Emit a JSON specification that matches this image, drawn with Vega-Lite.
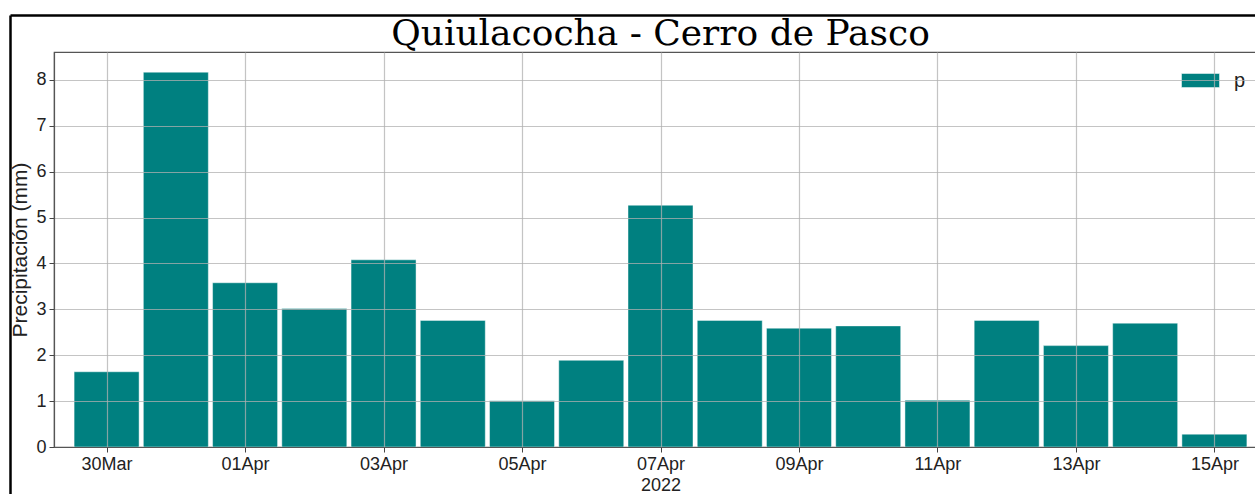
{
  "$schema": "https://vega.github.io/schema/vega-lite/v6.json",
  "width": 1213,
  "height": 395,
  "autosize": "none",
  "padding": {"left": 54, "top": 52, "right": 0, "bottom": 47},
  "background": "white",
  "title": {
    "text": "Quiulacocha - Cerro de Pasco",
    "font": "DejaVu Serif",
    "fontSize": 36,
    "fontWeight": "normal",
    "color": "black",
    "anchor": "middle",
    "frame": "group",
    "offset": 0,
    "dy": 41
  },
  "config": {
    "font": "Liberation Sans",
    "view": {"stroke": "#555555", "strokeWidth": 1.2}
  },
  "data": {
    "values": [
      {"date": "2022-03-30", "p": 1.64, "var": "p"},
      {"date": "2022-03-31", "p": 8.17, "var": "p"},
      {"date": "2022-04-01", "p": 3.58, "var": "p"},
      {"date": "2022-04-02", "p": 3.02, "var": "p"},
      {"date": "2022-04-03", "p": 4.08, "var": "p"},
      {"date": "2022-04-04", "p": 2.76, "var": "p"},
      {"date": "2022-04-05", "p": 1.01, "var": "p"},
      {"date": "2022-04-06", "p": 1.89, "var": "p"},
      {"date": "2022-04-07", "p": 5.27, "var": "p"},
      {"date": "2022-04-08", "p": 2.76, "var": "p"},
      {"date": "2022-04-09", "p": 2.59, "var": "p"},
      {"date": "2022-04-10", "p": 2.64, "var": "p"},
      {"date": "2022-04-11", "p": 1.02, "var": "p"},
      {"date": "2022-04-12", "p": 2.76, "var": "p"},
      {"date": "2022-04-13", "p": 2.21, "var": "p"},
      {"date": "2022-04-14", "p": 2.7, "var": "p"},
      {"date": "2022-04-15", "p": 0.28, "var": "p"}
    ]
  },
  "layer": [
    {
      "mark": {"type": "bar", "width": 65, "stroke": "#ffffff", "strokeOpacity": 0.45, "strokeWidth": 1},
      "encoding": {
        "x": {
          "field": "date",
          "type": "temporal",
          "scale": {
            "type": "utc",
            "nice": false,
            "padding": 0,
            "domain": [
              {"year": 2022, "month": "mar", "date": 29, "hours": 5, "minutes": 46, "utc": true},
              {"year": 2022, "month": "apr", "date": 15, "hours": 18, "minutes": 14, "utc": true}
            ]
          },
          "axis": {
            "values": [
              {"year": 2022, "month": "mar", "date": 30, "utc": true},
              {"year": 2022, "month": "apr", "date": 1, "utc": true},
              {"year": 2022, "month": "apr", "date": 3, "utc": true},
              {"year": 2022, "month": "apr", "date": 5, "utc": true},
              {"year": 2022, "month": "apr", "date": 7, "utc": true},
              {"year": 2022, "month": "apr", "date": 9, "utc": true},
              {"year": 2022, "month": "apr", "date": 11, "utc": true},
              {"year": 2022, "month": "apr", "date": 13, "utc": true},
              {"year": 2022, "month": "apr", "date": 15, "utc": true}
            ],
            "orient": "bottom",
            "labelExpr": "utcFormat(datum.value, '%d%b')",
            "title": "2022",
            "titleFont": "Liberation Sans",
            "titleFontSize": 18,
            "titleFontWeight": "normal",
            "titleColor": "#222222",
            "titlePadding": 3,
            "labelFontSize": 18,
            "labelColor": "#222222",
            "labelPadding": 3,
            "labelFlush": false,
            "labelOverlap": false,
            "tickSize": 5,
            "tickColor": "#444444",
            "domainColor": "#555555",
            "domainWidth": 1.2,
            "grid": true,
            "gridColor": "#b0b0b0",
            "gridOpacity": 0.75,
            "gridWidth": 1.2,
            "zindex": 1
          }
        },
        "y": {
          "field": "p",
          "type": "quantitative",
          "scale": {"domain": [0, 8.61], "nice": false, "zero": true},
          "axis": {
            "orient": "left",
            "values": [0, 1, 2, 3, 4, 5, 6, 7, 8],
            "title": "Precipitación (mm)",
            "titleFont": "Liberation Sans",
            "titleFontSize": 21,
            "titleFontWeight": "normal",
            "titleColor": "#222222",
            "titlePadding": 5,
            "labelFontSize": 18,
            "labelColor": "#222222",
            "labelPadding": 3,
            "tickSize": 5,
            "tickColor": "#444444",
            "domainColor": "#555555",
            "domainWidth": 1.2,
            "grid": true,
            "gridColor": "#b0b0b0",
            "gridOpacity": 0.75,
            "gridWidth": 1.2,
            "zindex": 1
          }
        },
        "color": {
          "field": "var",
          "type": "nominal",
          "scale": {"range": ["#008080"]},
          "legend": {
            "title": null,
            "orient": "none",
            "legendX": 1127,
            "legendY": 9,
            "padding": 0,
            "symbolType": "M-1,-0.368H1V0.368H-1Z",
            "symbolSize": 1444,
            "symbolStrokeColor": "#ffffff",
            "symbolStrokeWidth": 0.5,
            "symbolOpacity": 1,
            "labelFontSize": 20,
            "labelColor": "#222222",
            "labelOffset": 14
          }
        }
      }
    },
    {
      "mark": {"type": "point", "opacity": 0},
      "encoding": {
        "x": {
          "field": "date",
          "type": "temporal",
          "scale": {"type": "utc", "nice": false, "range": [-44, 1201]},
          "axis": {
            "orient": "top",
            "offset": 37,
            "labels": false,
            "ticks": false,
            "grid": false,
            "title": null,
            "domainColor": "#000000",
            "domainWidth": 2.5
          }
        },
        "y": {
          "field": "p",
          "type": "quantitative",
          "scale": {"nice": false, "range": [442, -37]},
          "axis": {
            "orient": "left",
            "offset": 44,
            "labels": false,
            "ticks": false,
            "grid": false,
            "title": null,
            "domainColor": "#000000",
            "domainWidth": 2.5
          }
        }
      }
    }
  ],
  "resolve": {
    "scale": {"x": "independent", "y": "independent"},
    "axis": {"x": "independent", "y": "independent"}
  }
}
